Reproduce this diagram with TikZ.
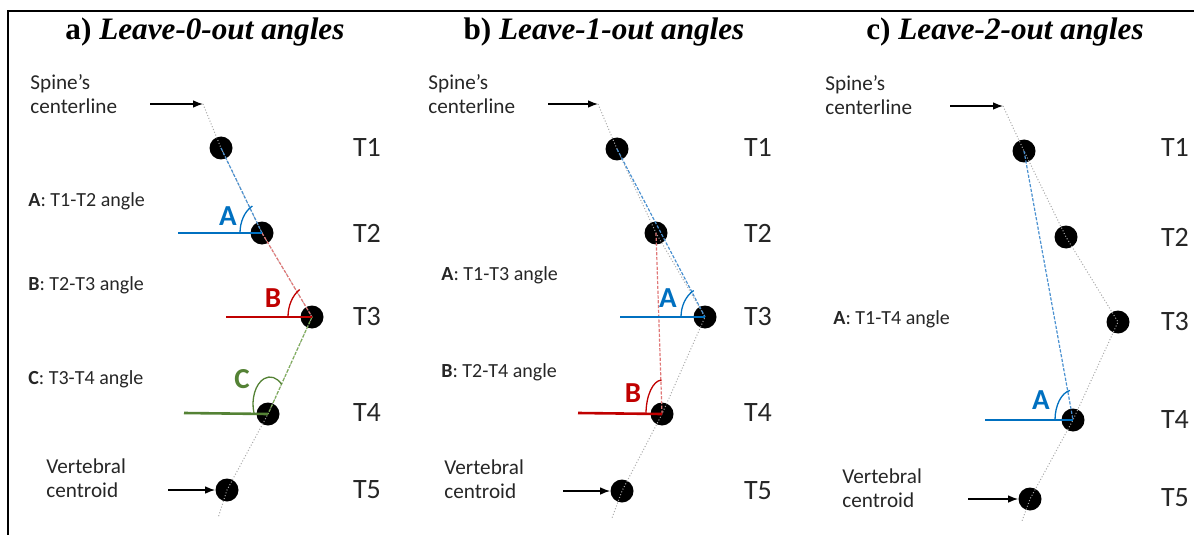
\documentclass[tikz,border=0pt]{standalone}
\usepackage{fontspec}
\setmainfont{Liberation Serif}
\newfontfamily\carl{Carlito}
\usetikzlibrary{arrows.meta}
\definecolor{cblue}{HTML}{0070C0}
\definecolor{cred}{HTML}{C00000}
\definecolor{cgreen}{HTML}{548235}
\definecolor{dblue}{HTML}{4A90D0}
\definecolor{dred}{HTML}{E07878}
\definecolor{dgreen}{HTML}{7FAE5C}
\definecolor{cgray}{HTML}{A8A8A8}
\definecolor{ctext}{HTML}{262626}
\begin{document}
\begin{tikzpicture}[x=0.5pt,y=-0.5pt,
  vdot/.style={circle,fill=black,inner sep=0pt,minimum size=11.5pt},
  tlab/.style={font=\carl\fontsize{14}{14}\selectfont,inner sep=0pt,text=ctext},
  ttl/.style={font=\bfseries\fontsize{15.6}{15.6}\selectfont,inner sep=0pt},
  desc/.style={font=\carl\fontsize{10.6}{12.2}\selectfont,align=left,anchor=west,inner sep=0pt,text=ctext},
  angtxt/.style={font=\carl\fontsize{10}{10}\selectfont,anchor=west,inner sep=0pt,text=ctext},
  letr/.style={font=\carl\bfseries\fontsize{14.5}{14.5}\selectfont,inner sep=0pt},
  cline/.style={cgray,densely dotted,line width=0.5pt},
  dashln/.style={dash pattern=on 1.6pt off 0.8pt,line width=0.6pt},
  hline/.style={line width=1.3pt},
  arcln/.style={line width=0.65pt},
  pointer/.style={-{Latex[length=5pt,width=3.8pt]},line width=0.6pt}
]
\useasboundingbox (0,0) rectangle (1194,535);
% frame
\coordinate (frTL) at (8,11);
\coordinate (frTR) at (1194,11);
\coordinate (frBL) at (8,535);
\draw[line width=1.3pt] (frTR) -- (frTL) -- (frBL);

% titles
\node[ttl] (ta) at (205,32) {a) \textit{Leave-0-out angles}};
\node[ttl] (tb) at (604,32) {b) \textit{Leave-1-out angles}};
\node[ttl] (tc) at (1005,32) {c) \textit{Leave-2-out angles}};

% ===== panel a =====
\node[desc] (aspine) at (30,94) {Spine’s\\centerline};
\node[desc] (avert) at (46,478) {Vertebral\\centroid};
\node[angtxt] (aAt) at (28,201) {\textbf{A}: T1-T2 angle};
\node[angtxt] (aBt) at (28,285) {\textbf{B}: T2-T3 angle};
\node[angtxt] (aCt) at (28,379) {\textbf{C}: T3-T4 angle};
\node[vdot] (a1) at (221,148) {};
\node[vdot] (a2) at (262,233) {};
\node[vdot] (a3) at (312,317) {};
\node[vdot] (a4) at (268,414) {};
\node[vdot] (a5) at (227,490) {};
\node[tlab] (aT1) at (367,147) {T1};
\node[tlab] (aT2) at (367,233) {T2};
\node[tlab] (aT3) at (367,317) {T3};
\node[tlab] (aT4) at (367,413) {T4};
\node[tlab] (aT5) at (367,490) {T5};
\coordinate (atop) at (203,104);
\coordinate (abot) at (218,518);
\coordinate (aarr1) at (150,104);
\coordinate (aarr2) at (168,490);
\coordinate (aAh) at (178,233);
\coordinate (aBh) at (226,317);
\coordinate (aCh) at (184,413);
\draw[cline] (atop) -- (a1.center) -- (a2.center) -- (a3.center) -- (a4.center) -- (a5.center) -- (abot);
\draw[pointer] (aarr1) -- (atop);
\draw[pointer] (aarr2) -- (a5);
\draw[dashln,dblue] (a1.center) -- (a2.center);
\draw[dashln,dred] (a2.center) -- (a3.center);
\draw[dashln,dgreen] (a3.center) -- (a4.center);
\draw[hline,cblue] (aAh) -- (a2.center);
\draw[hline,cred] (aBh) -- (a3.center);
\draw[hline,cgreen] (aCh) -- (a4.center);
\draw[arcln,cblue] (a2.center) ++(180:11pt) arc[start angle=180,end angle=116,x radius=11pt,y radius=15pt];
\draw[arcln,cred] (a3.center) ++(180:12pt) arc[start angle=180,end angle=121,x radius=12pt,y radius=16pt];
\draw[arcln,cgreen] (a4.center) ++(2,-10) ++(200:8.5pt and 13.5pt) arc[start angle=200,end angle=47,x radius=8.5pt,y radius=13.5pt];
\node[letr,cblue] (aA) at (228,216) {A};
\node[letr,cred] (aB) at (273,298) {B};
\node[letr,cgreen] (aC) at (242,379) {C};

% ===== panel b =====
\node[desc] (bspine) at (428,94) {Spine’s\\centerline};
\node[desc] (bvert) at (444,479) {Vertebral\\centroid};
\node[angtxt] (bAt) at (441,275) {\textbf{A}: T1-T3 angle};
\node[angtxt] (bBt) at (441,372) {\textbf{B}: T2-T4 angle};
\node[vdot] (b1) at (617,149) {};
\node[vdot] (b2) at (656,233) {};
\node[vdot] (b3) at (705,317) {};
\node[vdot] (b4) at (662,414) {};
\node[vdot] (b5) at (622,491) {};
\node[tlab] (bT1) at (758,147) {T1};
\node[tlab] (bT2) at (758,233) {T2};
\node[tlab] (bT3) at (758,317) {T3};
\node[tlab] (bT4) at (758,413) {T4};
\node[tlab] (bT5) at (758,491) {T5};
\coordinate (btop) at (598,104);
\coordinate (bbot) at (612,518);
\coordinate (barr1) at (548,104);
\coordinate (barr2) at (563,491);
\coordinate (bAh) at (620,317);
\coordinate (bBh) at (578,413);
\draw[cline] (btop) -- (b1.center) -- (b2.center) -- (b3.center) -- (b4.center) -- (b5.center) -- (bbot);
\draw[pointer] (barr1) -- (btop);
\draw[pointer] (barr2) -- (b5);
\draw[dashln,dblue] (b1.center) -- (b3.center);
\draw[dashln,dred] (b2.center) -- (b4.center);
\draw[hline,cblue] (bAh) -- (b3.center);
\draw[hline,cred] (bBh) -- (b4.center);
\draw[arcln,cblue] (b3.center) ++(180:12pt) arc[start angle=180,end angle=118,x radius=12pt,y radius=15pt];
\draw[arcln,cred] (b4.center) ++(180:8pt) arc[start angle=180,end angle=92,x radius=8pt,y radius=17pt];
\node[letr,cblue] (bA) at (668,298) {A};
\node[letr,cred] (bB) at (633,393) {B};

% ===== panel c =====
\node[desc] (cspine) at (825,95) {Spine’s\\centerline};
\node[desc] (cvert) at (842,488) {Vertebral\\centroid};
\node[angtxt] (cAt) at (833,319) {\textbf{A}: T1-T4 angle};
\node[vdot] (c1) at (1024,151) {};
\node[vdot] (c2) at (1066,237) {};
\node[vdot] (c3) at (1118,322) {};
\node[vdot] (c4) at (1073,420) {};
\node[vdot] (c5) at (1030,499) {};
\node[tlab] (cT1) at (1175,147) {T1};
\node[tlab] (cT2) at (1175,237) {T2};
\node[tlab] (cT3) at (1175,322) {T3};
\node[tlab] (cT4) at (1175,420) {T4};
\node[tlab] (cT5) at (1175,498) {T5};
\coordinate (ctop) at (1003,106);
\coordinate (cbot) at (1022,521);
\coordinate (carr1) at (950,106);
\coordinate (carr2) at (968,499);
\coordinate (cAh) at (985,420);
\draw[cline] (ctop) -- (c1.center) -- (c2.center) -- (c3.center) -- (c4.center) -- (c5.center) -- (cbot);
\draw[pointer] (carr1) -- (ctop);
\draw[pointer] (carr2) -- (c5);
\draw[dashln,dblue] (c1.center) -- (c4.center);
\draw[hline,cblue] (cAh) -- (c4.center);
\draw[arcln,cblue] (c4.center) ++(180:9pt) arc[start angle=180,end angle=100,x radius=9pt,y radius=15pt];
\node[letr,cblue] (cA) at (1041,400) {A};
\end{tikzpicture}
\end{document}
